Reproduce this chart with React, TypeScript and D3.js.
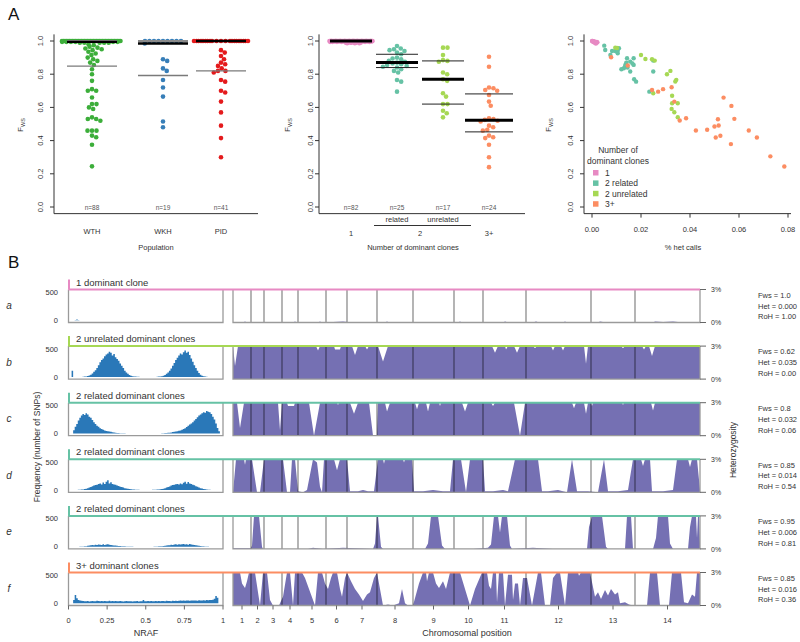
import React from "react";
import * as d3 from "d3";

const FONT = "'Liberation Sans', Arial, Helvetica, sans-serif";

// ---------------- Panel A data ----------------
const populations = ["WTH", "WKH", "PID"];
const popColors = ["#3cae3a", "#377eb8", "#e41a1c"];
const fwsWTH = [
  1, 1, 1, 1, 1, 1, 1, 1, 1, 1,
  1, 1, 1, 1, 1, 1, 1, 1, 1, 1,
  1, 1, 1, 1, 1, 1, 1, 1, 1, 1,
  1, 1, 1, 1, 1, 1, 1, 1, 1, 1,
  0.995, 0.995, 0.995, 0.995, 0.995, 0.995, 0.99, 0.99, 0.99, 0.99, 0.99,
  0.98, 0.975, 0.965, 0.96, 0.955, 0.95, 0.945, 0.935, 0.925, 0.915, 0.9, 0.89, 0.88, 0.87, 0.855,
  0.83, 0.8, 0.76, 0.71, 0.7, 0.7, 0.66, 0.62, 0.62, 0.6, 0.59, 0.54, 0.53, 0.53, 0.52, 0.46, 0.46,
  0.46, 0.43, 0.42, 0.375, 0.245,
];
const fwsWKH = [1, 1, 1, 1, 1, 1, 1, 1, 1, 0.985, 0.89, 0.88, 0.835, 0.82, 0.765, 0.72, 0.665, 0.515, 0.48];
const fwsPID = [
  1, 1, 1, 1, 1, 1, 1, 1, 1, 1, 1, 1, 1, 1, 1, 1, 1, 1, 1, 1, 1,
  0.945, 0.93, 0.91, 0.89, 0.87, 0.86, 0.85, 0.835, 0.82, 0.82, 0.81, 0.765, 0.755, 0.7, 0.69, 0.635,
  0.57, 0.49, 0.415, 0.3,
];

const cloneGroups = ["1", "2 related", "2 unrelated", "3+"];
const cloneColors = ["#e78ac3", "#66c2a5", "#a6d854", "#fc8d62"];
const fwsOne = [
  1, 1, 1, 1, 1, 1, 1, 1, 1, 1,
  1, 1, 1, 1, 1, 1, 1, 1, 1, 1,
  1, 1, 1, 1, 1, 1, 1, 1, 1, 1,
  1, 1, 1, 1, 1, 1, 1, 1, 1, 1,
  1, 1, 1, 1, 1, 1, 1, 1, 1, 1,
  1, 1, 1, 1, 1, 1, 1, 1, 1, 1,
  0.998, 0.998, 0.998, 0.998, 0.998, 0.998, 0.998, 0.998,
  0.995, 0.995, 0.995, 0.995, 0.995, 0.995,
  0.99, 0.99, 0.99, 0.99, 0.99, 0.987, 0.987, 0.987,
];
const fwsRelated = [
  0.97, 0.955, 0.95, 0.945, 0.94, 0.93, 0.92, 0.9, 0.895, 0.89, 0.88, 0.875, 0.87, 0.865, 0.86, 0.855,
  0.85, 0.845, 0.84, 0.83, 0.82, 0.81, 0.765, 0.755, 0.695,
];
const fwsUnrelated = [0.96, 0.96, 0.915, 0.885, 0.88, 0.875, 0.81, 0.8, 0.77, 0.76, 0.685, 0.665, 0.62, 0.62, 0.58, 0.565, 0.54];
const fwsThreePlus = [
  0.905, 0.845, 0.72, 0.715, 0.705, 0.7, 0.675, 0.635, 0.61, 0.535, 0.53, 0.525, 0.52, 0.515, 0.49, 0.48,
  0.465, 0.46, 0.43, 0.42, 0.415, 0.375, 0.3, 0.24,
];

// Panel A3: [% het calls, Fws]
const hetOne: [number, number][] = [
  [0, 1], [0.0003, 0.999], [0.0006, 0.998], [0.001, 0.997], [0.0012, 0.995], [0.0015, 0.993], [0.0018, 0.99],
  [0.0008, 0.992], [0.0004, 0.996], [0.002, 0.994], [0.0013, 0.988], [0.0016, 0.985], [0.0022, 0.992], [0.0002, 1],
];
const hetRelated: [number, number][] = [
  [0.005, 0.972], [0.0054, 0.946], [0.0075, 0.916], [0.0082, 0.94], [0.0095, 0.94], [0.0105, 0.942], [0.011, 0.956],
  [0.0105, 0.926], [0.013, 0.836], [0.0136, 0.856], [0.0143, 0.896], [0.014, 0.87], [0.0135, 0.845], [0.0156, 0.876],
  [0.017, 0.896], [0.017, 0.856], [0.0156, 0.816], [0.0172, 0.77], [0.018, 0.755], [0.0234, 0.695], [0.025, 0.816],
  [0.025, 0.882], [0.0145, 0.84], [0.012, 0.83], [0.0165, 0.865],
];
const hetUnrelated: [number, number][] = [
  [0.0095, 0.96], [0.0102, 0.958], [0.02, 0.916], [0.0218, 0.892], [0.0245, 0.89], [0.0256, 0.882], [0.0306, 0.8],
  [0.032, 0.82], [0.0344, 0.766], [0.034, 0.756], [0.0327, 0.67], [0.0327, 0.625], [0.035, 0.625], [0.0325, 0.591],
  [0.0336, 0.571], [0.035, 0.541], [0.025, 0.685],
];
const hetThreePlus: [number, number][] = [
  [0.0078, 0.902], [0.0146, 0.852], [0.0245, 0.705], [0.027, 0.695], [0.029, 0.71], [0.0325, 0.721], [0.0336, 0.635],
  [0.0358, 0.521], [0.0384, 0.535], [0.0424, 0.461], [0.047, 0.465], [0.05, 0.485], [0.0505, 0.419], [0.0514, 0.529],
  [0.0517, 0.491], [0.0524, 0.429], [0.0537, 0.659], [0.0567, 0.379], [0.0569, 0.609], [0.0581, 0.531], [0.064, 0.461],
  [0.0673, 0.419], [0.0728, 0.305], [0.0785, 0.244],
];
const fwsTicks = [0, 0.2, 0.4, 0.6, 0.8, 1.0];
const hetTicks = [0, 0.02, 0.04, 0.06, 0.08];

// ---------------- Panel B data ----------------
const rowLetters = ["a", "b", "c", "d", "e", "f"];
const rowTitles = [
  "1 dominant clone",
  "2 unrelated dominant clones",
  "2 related dominant clones",
  "2 related dominant clones",
  "2 related dominant clones",
  "3+ dominant clones",
];
const rowGroup = [0, 2, 1, 1, 1, 3];
const rowFws = ["1.0", "0.62", "0.8", "0.85", "0.95", "0.85"];
const rowHet = ["0.000", "0.035", "0.032", "0.014", "0.006", "0.016"];
const rowRoH = ["1.00", "0.00", "0.06", "0.54", "0.81", "0.36"];
const nrafTicks = [0, 0.25, 0.5, 0.75, 1];
const nrafLabels = ["0", "0.25", "0.5", "0.75", "1"];
// relative chromosome lengths (arbitrary genome units)
const chromLengths = [18, 13, 18, 16, 28, 21, 30, 36, 41, 29, 43, 65, 44, 65];

// NRAF histograms, 100 bins of 0.01
const histA = [
  0, 0, 0, 0, 5, 15, 4, 0, 0, 0,
  0, 0, 0, 0, 0, 0, 0, 0, 0, 0,
  0, 0, 0, 0, 0, 0, 0, 0, 0, 0,
  0, 0, 0, 0, 0, 0, 0, 0, 0, 0,
  0, 0, 0, 0, 0, 0, 0, 0, 0, 0,
  0, 0, 0, 0, 0, 0, 0, 0, 0, 0,
  0, 0, 0, 0, 0, 0, 0, 0, 0, 0,
  0, 0, 0, 0, 0, 0, 0, 0, 0, 0,
  0, 0, 0, 0, 0, 0, 0, 0, 0, 0,
  0, 0, 0, 0, 0, 0, 0, 0, 0, 0,
];
const histB = [
  0, 0, 110, 0, 0, 0, 0, 0, 0, 2,
  5, 8, 15, 25, 40, 60, 90, 120, 160, 210,
  260, 300, 330, 370, 400, 420, 450, 430, 380, 410,
  350, 320, 290, 240, 200, 160, 110, 80, 55, 35,
  20, 12, 8, 5, 3, 2, 0, 0, 0, 0,
  0, 0, 0, 0, 0, 0, 0, 3, 5, 8,
  12, 20, 35, 55, 80, 110, 150, 200, 250, 300,
  340, 380, 420, 400, 440, 470, 430, 450, 390, 330,
  270, 210, 160, 110, 70, 40, 20, 10, 5, 2,
  0, 0, 0, 0, 0, 0, 0, 0, 0, 0,
];
const histC = [
  0, 0, 0, 60, 120, 170, 230, 280, 320, 350,
  330, 360, 340, 300, 280, 240, 200, 170, 140, 120,
  95, 80, 65, 55, 45, 40, 35, 30, 22, 18,
  12, 10, 8, 6, 5, 4, 3, 2, 2, 1,
  1, 1, 0, 0, 0, 0, 0, 0, 0, 0,
  0, 0, 0, 0, 0, 0, 1, 1, 2, 2,
  3, 5, 8, 10, 12, 15, 20, 25, 30, 35,
  40, 48, 55, 65, 80, 95, 115, 140, 160, 180,
  200, 230, 260, 290, 320, 340, 360, 380, 370, 400,
  390, 380, 350, 300, 250, 180, 100, 40, 0, 0,
];
const histD = [
  0, 0, 0, 0, 0, 3, 5, 8, 10, 12,
  18, 25, 35, 45, 55, 70, 80, 90, 95, 110,
  120, 100, 135, 110, 150, 175, 120, 140, 110, 100,
  95, 80, 75, 60, 55, 45, 35, 30, 22, 18,
  15, 12, 10, 8, 6, 5, 4, 3, 3, 2,
  2, 3, 3, 4, 5, 6, 8, 10, 12, 15,
  20, 25, 35, 45, 55, 65, 80, 90, 95, 105,
  110, 100, 120, 105, 130, 150, 115, 145, 120, 110,
  95, 85, 70, 60, 45, 35, 28, 20, 15, 10,
  8, 5, 3, 2, 1, 0, 0, 0, 0, 0,
];
const histE = [
  0, 0, 0, 0, 0, 0, 0, 2, 3, 4,
  6, 10, 15, 20, 25, 30, 28, 35, 30, 38,
  35, 30, 42, 32, 38, 45, 35, 30, 25, 22,
  20, 16, 14, 12, 10, 8, 6, 5, 4, 3,
  2, 2, 1, 1, 0, 0, 0, 0, 0, 0,
  0, 0, 0, 1, 1, 2, 3, 4, 6, 8,
  10, 12, 16, 20, 25, 28, 35, 30, 38, 42,
  35, 45, 38, 42, 50, 40, 45, 35, 48, 40,
  35, 30, 26, 22, 18, 14, 10, 7, 5, 3,
  2, 1, 0, 0, 0, 0, 0, 0, 0, 0,
];
const histF = [
  0, 0, 0, 60, 150, 90, 60, 50, 45, 40,
  38, 35, 40, 33, 36, 42, 38, 35, 45, 40,
  38, 42, 36, 40, 35, 38, 44, 36, 40, 35,
  40, 37, 35, 42, 38, 33, 36, 40, 35, 38,
  36, 33, 38, 35, 40, 34, 37, 38, 60, 36,
  38, 40, 35, 42, 38, 36, 40, 37, 42, 38,
  40, 43, 38, 45, 40, 42, 38, 44, 40, 46,
  42, 45, 48, 44, 50, 46, 52, 48, 45, 50,
  48, 52, 50, 47, 55, 50, 52, 55, 50, 58,
  55, 60, 58, 62, 80, 130, 100, 0, 0, 0,
];

// heterozygosity profiles: [genome position (units), heterozygosity %]
const hetProfileA: [number, number][] = [
  [0, 0], [10, 0], [12, 0.08], [14, 0], [60, 0], [62, 0.08], [64, 0], [85, 0], [87, 0.1], [89, 0], [100, 0.05],
  [110, 0.08], [120, 0], [152, 0], [154, 0.1], [156, 0], [225, 0], [227, 0.08], [229, 0], [270, 0], [272, 0.08],
  [275, 0], [300, 0], [303, 0.1], [306, 0], [330, 0], [332, 0.08], [334, 0], [365, 0], [367, 0.1], [370, 0.05],
  [380, 0], [420, 0], [422, 0.08], [430, 0.05], [440, 0.08], [450, 0], [467, 0],
];
const hetProfileB: [number, number][] = [
  [0, 3], [2, 1.2], [5, 3], [83, 3], [85, 2.6], [87, 3], [101, 3], [102, 2.7], [107, 2.7], [108, 3], [119, 3],
  [122, 2.2], [125, 3], [132, 3], [134, 2.7], [136, 3], [145, 3], [150, 1.6], [155, 3], [259, 3], [262, 2.4],
  [265, 3], [272, 3], [273, 2.7], [275, 3], [281, 3], [284, 2.4], [287, 3], [300, 3], [302, 2.8], [304, 3],
  [318, 3], [320, 2.6], [322, 3], [328, 3], [330, 2.6], [332, 3], [351, 3], [353, 1.4], [355, 3], [388, 3],
  [390, 2.8], [392, 3], [409, 3], [411, 2.7], [413, 3], [416, 3], [419, 2.1], [422, 3], [467, 3],
];
const hetProfileC: [number, number][] = [
  [0, 3], [4, 3], [7, 0.7], [11, 3], [45, 3], [47, 0.5], [49, 3], [54, 3], [55, 2.7], [61, 2.7], [62, 3], [76, 3],
  [81, 0], [87, 3], [104, 3], [105, 2.8], [106, 3], [117, 3], [121, 2.0], [125, 3], [136, 3], [140, 0], [144, 0],
  [145, 3], [152, 3], [154, 2.2], [157, 3], [182, 3], [184, 2.4], [186, 3], [193, 3], [195, 2.2], [197, 3],
  [206, 3], [207, 2.7], [208, 3], [229, 3], [232, 2.2], [235, 3], [258, 3], [260, 2.7], [262, 3], [281, 3],
  [287, 0], [292, 3], [339, 3], [341, 2.5], [343, 3], [351, 3], [353, 2.0], [355, 3], [358, 3], [359, 2.7],
  [360, 3], [389, 3], [390, 2.8], [391, 3], [418, 3], [420, 2.3], [422, 3], [467, 3],
];
const hetProfileD: [number, number][] = [
  [0, 0], [3, 3], [11, 3], [12, 2.5], [13, 3], [19, 3], [24, 0], [27, 0], [31, 3], [50, 3], [54, 0], [57, 0],
  [59, 3], [62, 3], [65, 0.1], [70, 0], [74, 0.2], [80, 3], [84, 2.7], [87, 0.5], [89, 0], [91, 3], [101, 3],
  [104, 2.0], [107, 3], [114, 3], [117, 0.1], [125, 0.1], [130, 0.2], [135, 0.1], [141, 0.1], [145, 3], [150, 3],
  [151, 2.6], [152, 3], [170, 3], [171, 2.7], [172, 3], [179, 3], [181, 0.1], [190, 0.1], [200, 0.2], [210, 0.1],
  [217, 0.1], [220, 3], [228, 3], [233, 0], [237, 3], [250, 3], [252, 0.1], [260, 0.1], [270, 0.2], [275, 0.1],
  [282, 3], [305, 3], [309, 0.1], [315, 0.1], [325, 0.2], [334, 0], [339, 3], [344, 0.1], [355, 0.1], [365, 0],
  [371, 3], [375, 0.1], [385, 0.1], [395, 0.2], [400, 3], [408, 3], [410, 2.4], [412, 3], [417, 3], [419, 0.1],
  [430, 0.1], [440, 0.2], [444, 3], [455, 3], [457, 2.3], [459, 3], [464, 3], [467, 0.2],
];
const hetProfileE: [number, number][] = [
  [0, 0.05], [18, 0.05], [19, 0.3], [21, 3], [26, 3], [29, 0.2], [30, 0], [75, 0], [80, 0.1], [90, 0], [110, 0.1],
  [140, 0], [142, 0.5], [144, 3], [145, 3], [148, 0.2], [150, 0], [192, 0], [195, 0.5], [198, 3], [205, 3],
  [209, 0.3], [212, 0], [240, 0], [255, 0.1], [258, 0.4], [261, 3], [265, 3], [267, 1.5], [269, 3], [274, 3],
  [277, 0.3], [279, 0], [300, 0.1], [320, 0], [354, 0], [356, 2], [359, 3], [369, 3], [373, 0.2], [375, 0],
  [392, 0], [394, 3], [398, 3], [400, 0], [420, 0], [423, 1], [425, 3], [435, 3], [437, 0.5], [440, 0], [455, 0],
  [457, 2], [459, 3], [463, 3], [464, 1], [465, 3], [466, 3], [467, 0.5],
];
const hetProfileF: [number, number][] = [
  [0, 3], [7, 3], [9, 2.0], [12, 1.6], [14, 2.2], [16, 3], [22, 3], [27, 0], [30, 3], [34, 3], [37, 0.5], [40, 0],
  [46, 0], [48, 0.4], [50, 0.8], [54, 3], [57, 3], [60, 0], [62, 3], [69, 3], [72, 2.5], [76, 1.5], [82, 0],
  [85, 3], [89, 3], [92, 2], [95, 1.5], [98, 2.5], [100, 3], [104, 3], [107, 1.5], [109, 0.8], [112, 2.5],
  [114, 3], [118, 2.2], [122, 1.5], [126, 1.0], [130, 0.4], [134, 1.0], [137, 1.2], [141, 2.5], [144, 3],
  [147, 1.5], [150, 0], [155, 0.1], [160, 0], [166, 0.2], [169, 1.5], [172, 0.2], [175, 0], [180, 0], [186, 2],
  [190, 3], [193, 3], [194, 2.2], [196, 3], [200, 3], [203, 2], [206, 1.6], [210, 2.2], [213, 1.5], [217, 3],
  [227, 3], [232, 1.5], [237, 0], [242, 1.5], [249, 3], [254, 3], [256, 1.8], [258, 1.5], [260, 3], [263, 3],
  [264, 0.3], [266, 3], [270, 3], [272, 0], [275, 2.8], [279, 2.8], [280, 0.5], [282, 2], [285, 2], [287, 0],
  [290, 2.5], [294, 2.5], [297, 1], [299, 0], [302, 1.5], [305, 3], [308, 3], [312, 0], [317, 0], [320, 2.5],
  [324, 3], [327, 3], [332, 0], [335, 3], [345, 3], [346, 2.7], [348, 3], [357, 3], [362, 0.8], [365, 1.2],
  [368, 0.6], [372, 1.4], [375, 0.9], [378, 1.5], [382, 1.0], [385, 1.2], [387, 0.2], [392, 0.3], [396, 0.1],
  [400, 0], [414, 0], [417, 3], [424, 3], [427, 0], [436, 0], [439, 3], [448, 3], [451, 0.3], [455, 0.2],
  [459, 1.0], [462, 0.8], [464, 3], [467, 3],
];

const histRows = [histA, histB, histC, histD, histE, histF];
const profileRows = [hetProfileA, hetProfileB, hetProfileC, hetProfileD, hetProfileE, hetProfileF];

// ---------------- helpers ----------------
type Pt = { x: number; y: number };
function swarmLayout(values: number[], yPos: (v: number) => number, diam: number, maxHalf: number): Pt[] {
  const idx = values.map((_, i) => i).sort((a, b) => values[b] - values[a]);
  const placed: Pt[] = [];
  const out: Pt[] = new Array(values.length);
  for (const i of idx) {
    const py = yPos(values[i]);
    const near = placed.filter((p) => Math.abs(p.y - py) < diam);
    const cands = [0];
    near.forEach((p) => {
      const dx = Math.sqrt(Math.max(0, diam * diam - (p.y - py) ** 2));
      cands.push(p.x + dx, p.x - dx);
    });
    const ok = cands.filter((c) => near.every((p) => (p.x - c) ** 2 + (p.y - py) ** 2 >= diam * diam - 0.01));
    ok.sort((a, b) => Math.abs(a) - Math.abs(b));
    const p = { x: ok.length ? ok[0] : 0, y: py };
    placed.push(p);
    out[i] = p;
  }
  const span = 2 * maxHalf;
  return out.map((p) => {
    let x = p.x;
    if (Math.abs(x) > maxHalf) x = ((((x + maxHalf) % span) + span) % span) - maxHalf;
    return { x, y: p.y };
  });
}

const TXT = "#333";

export default function App() {
  // ---------- Panel A ----------
  const yA = d3.scaleLinear().domain([0, 1]).range([207, 41]);
  const frameTop = yA(1.04);
  const frameBottom = yA(-0.04);
  const xA1 = d3.scaleOrdinal<string, number>().domain(populations).range([92, 163, 221]);
  const xA2 = d3.scalePoint<string>().domain(cloneGroups).range([351, 489]);
  const xA3 = d3.scaleLinear().domain([0, 0.08]).range([592, 788]);
  const a1Sets = [fwsWTH, fwsWKH, fwsPID];
  const a1Half = [30, 20, 28];
  const a2Sets = [fwsOne, fwsRelated, fwsUnrelated, fwsThreePlus];
  const a2Half = [22, 20, 20, 22];
  const a3Sets = [hetOne, hetRelated, hetUnrelated, hetThreePlus];
  const R = 2.3;

  const yAxisA = (axX: number, labX: number, key: string, rightEnd: number) => (
    <g key={key}>
      <path d={`M${axX},${frameTop}V${frameBottom}H${rightEnd}`} fill="none" stroke="#333" strokeWidth={1} />
      {fwsTicks.map((t) => (
        <g key={t}>
          <line x1={axX - 4} x2={axX} y1={yA(t)} y2={yA(t)} stroke="#333" strokeWidth={1} />
          <text transform={`translate(${labX},${yA(t)}) rotate(-90)`} textAnchor="middle" fontSize={7.5} fill={TXT}>
            {t.toFixed(1)}
          </text>
        </g>
      ))}
    </g>
  );
  const fwsTitle = (x: number, key: string) => (
    <text key={key} transform={`translate(${x},125) rotate(-90)`} textAnchor="middle" fontSize={8} fill={TXT}>
      F<tspan fontSize={5.5} dy={2}>WS</tspan>
    </text>
  );

  // ---------- Panel B ----------
  const rowTop0 = 289.5;
  const rowStep = 56.6;
  const boxH = 33;
  const nraf = d3.scaleLinear().domain([0, 1]).range([68.5, 223]);
  const totalLen = d3.sum(chromLengths);
  const chromX = d3.scaleLinear().domain([0, totalLen]).range([233, 700]);
  const cumEnds = d3.cumsum(chromLengths);
  const chromStarts = chromLengths.map((l, i) => cumEnds[i] - l);
  const chromMids = chromLengths.map((l, i) => chromStarts[i] + l / 2);

  return (
    <svg
      width={800}
      height={642}
      style={{ position: "absolute", left: 0, top: 0, background: "#fff", fontFamily: FONT }}
    >
      <rect x={0} y={0} width={800} height={642} fill="#fff" />
      {/* panel letters */}
      <text x={8} y={20} fontSize={17} fill="#111">A</text>
      <text x={8} y={268} fontSize={17} fill="#111">B</text>

      {/* ===== A1 ===== */}
      {yAxisA(54, 42.5, "ax1", 258)}
      {fwsTitle(23, "f1")}
      {a1Sets.map((vals, gi) => {
        const cx = xA1(populations[gi]);
        const pts = swarmLayout(vals, yA, 4.5, a1Half[gi]);
        const sorted = [...vals].sort(d3.ascending);
        const med = d3.quantileSorted(sorted, 0.5)!;
        const q1 = d3.quantileSorted(sorted, 0.25)!;
        const q3 = d3.quantileSorted(sorted, 0.75)!;
        return (
          <g key={gi}>
            {pts.map((p, i) => (
              <circle key={i} cx={cx + p.x} cy={p.y} r={R} fill={popColors[gi]} />
            ))}
            <line x1={cx - 25} x2={cx + 25} y1={yA(q3)} y2={yA(q3)} stroke="#8a8a8a" strokeWidth={2} />
            <line x1={cx - 25} x2={cx + 25} y1={yA(q1)} y2={yA(q1)} stroke="#7a7a7a" strokeWidth={1.4} />
            <line x1={cx - 25} x2={cx + 25} y1={yA(med)} y2={yA(med)} stroke="#000" strokeWidth={2.4} />
            <text x={cx} y={210} textAnchor="middle" fontSize={6.5} fill="#555">{`n=${vals.length}`}</text>
            <text x={cx} y={234} textAnchor="middle" fontSize={7.5} fill={TXT}>{populations[gi]}</text>
          </g>
        );
      })}
      <text x={156} y={250} textAnchor="middle" fontSize={7.5} fill={TXT}>Population</text>

      {/* ===== A2 ===== */}
      {yAxisA(319, 312.5, "ax2", 525)}
      {fwsTitle(290, "f2")}
      {a2Sets.map((vals, gi) => {
        const cx = xA2(cloneGroups[gi])!;
        const pts = swarmLayout(vals, yA, 4.5, a2Half[gi]);
        const sorted = [...vals].sort(d3.ascending);
        const med = d3.quantileSorted(sorted, 0.5)!;
        const q1 = d3.quantileSorted(sorted, 0.25)!;
        const q3 = d3.quantileSorted(sorted, 0.75)!;
        const hw = gi === 3 ? 24 : 21;
        return (
          <g key={gi}>
            {pts.map((p, i) => (
              <circle key={i} cx={cx + p.x} cy={p.y} r={R} fill={cloneColors[gi]} />
            ))}
            <line x1={cx - hw} x2={cx + hw} y1={yA(q3)} y2={yA(q3)} stroke="#222" strokeWidth={1} />
            <line x1={cx - hw} x2={cx + hw} y1={yA(q1)} y2={yA(q1)} stroke="#222" strokeWidth={1} />
            <line x1={cx - hw} x2={cx + hw} y1={yA(med)} y2={yA(med)} stroke="#000" strokeWidth={3} />
            <text x={cx} y={210} textAnchor="middle" fontSize={6.5} fill="#555">{`n=${vals.length}`}</text>
          </g>
        );
      })}
      <text x={xA2("2 related")} y={222} textAnchor="middle" fontSize={7.5} fill={TXT}>related</text>
      <text x={xA2("2 unrelated")} y={222} textAnchor="middle" fontSize={7.5} fill={TXT}>unrelated</text>
      <line x1={374} x2={471} y1={225.5} y2={225.5} stroke="#333" strokeWidth={1} />
      <text x={xA2("1")} y={236} textAnchor="middle" fontSize={7.5} fill={TXT}>1</text>
      <text x={(xA2("2 related")! + xA2("2 unrelated")!) / 2} y={236} textAnchor="middle" fontSize={7.5} fill={TXT}>2</text>
      <text x={xA2("3+")} y={236} textAnchor="middle" fontSize={7.5} fill={TXT}>3+</text>
      <text x={413} y={250} textAnchor="middle" fontSize={7.5} fill={TXT}>Number of dominant clones</text>

      {/* ===== A3 ===== */}
      {yAxisA(584, 572.5, "ax3", 791)}
      {fwsTitle(551, "f3")}
      {hetTicks.map((t) => (
        <g key={t}>
          <line x1={xA3(t)} x2={xA3(t)} y1={frameBottom} y2={frameBottom + 4} stroke="#333" strokeWidth={1} />
          <text x={xA3(t)} y={232} textAnchor="middle" fontSize={7.5} fill={TXT}>{t.toFixed(2)}</text>
        </g>
      ))}
      {a3Sets.map((pts, gi) => (
        <g key={gi}>
          {pts.map((p, i) => (
            <circle key={i} cx={xA3(p[0])} cy={yA(p[1])} r={2.2} fill={cloneColors[gi]} />
          ))}
        </g>
      ))}
      <text x={683} y={250} textAnchor="middle" fontSize={7.5} fill={TXT}>% het calls</text>
      <text x={618} y={153} textAnchor="middle" fontSize={8.5} fill={TXT}>Number of</text>
      <text x={618} y={163.5} textAnchor="middle" fontSize={8.5} fill={TXT}>dominant clones</text>
      {cloneGroups.map((g, i) => (
        <g key={g}>
          <rect x={593} y={170 + i * 10.4} width={5.5} height={5.5} fill={cloneColors[i]} />
          <text x={605} y={175.7 + i * 10.4} fontSize={8.5} fill={TXT}>{g}</text>
        </g>
      ))}

      {/* ===== Panel B ===== */}
      <text transform="translate(40,447) rotate(-90)" textAnchor="middle" fontSize={8.5} fill={TXT}>
        Frequency (number of SNPs)
      </text>
      <text transform="translate(736,450) rotate(-90)" textAnchor="middle" fontSize={8.5} fill={TXT}>
        Heterozygosity
      </text>
      {rowLetters.map((letter, ri) => {
        const top = rowTop0 + ri * rowStep;
        const bottom = top + boxH;
        const col = cloneColors[rowGroup[ri]];
        const hy = d3.scaleLinear().domain([0, 550]).range([top + 30.8, top]);
        const hetY = d3.scaleLinear().domain([0, 3]).range([bottom, top]);
        const bins = histRows[ri];
        const histData = [...bins, bins[bins.length - 1]];
        const histPath = d3
          .area<number>()
          .x((_, i) => nraf(i / bins.length))
          .y0(hy(0))
          .y1((d) => hy(d))
          .curve(d3.curveStepAfter)(histData) as string;
        const profPath = d3
          .area<[number, number]>()
          .x((d) => chromX(d[0]))
          .y0(bottom)
          .y1((d) => hetY(Math.max(0, Math.min(3, d[1]))))(profileRows[ri]) as string;
        return (
          <g key={letter}>
            <text x={9} y={top + 19.5} fontSize={10} fontStyle="italic" fill={TXT} textAnchor="middle">{letter}</text>
            {/* histogram */}
            <path d={histPath} fill="#2a78b8" />
            <path d={`M${nraf(0)},${top}V${bottom}H${nraf(1)}V${top}`} fill="none" stroke="#9a9a9a" strokeWidth={1.3} />
            <text x={58} y={hy(500) + 2.7} textAnchor="end" fontSize={7.5} fill={TXT}>500</text>
            <text x={58} y={hy(0) + 2.7} textAnchor="end" fontSize={7.5} fill={TXT}>0</text>
            {/* heterozygosity profile */}
            <path d={profPath} fill="#7570b3" />
            {chromStarts.slice(1).map((s, ci) => (
              <line key={ci} x1={chromX(s)} x2={chromX(s)} y1={top} y2={bottom} stroke="rgba(0,0,0,0.45)" strokeWidth={1.3} />
            ))}
            <path d={`M${chromX(0)},${top}V${bottom}H${chromX(totalLen)}V${top}`} fill="none" stroke="#9a9a9a" strokeWidth={1.3} />
            <line x1={700} x2={706} y1={hetY(3)} y2={hetY(3)} stroke="#666" strokeWidth={1} />
            <line x1={700} x2={706} y1={hetY(0)} y2={hetY(0)} stroke="#666" strokeWidth={1} />
            <text x={711} y={hetY(3) + 2.6} fontSize={7} fill={TXT}>3%</text>
            <text x={711} y={hetY(0) + 2.6} fontSize={7} fill={TXT}>0%</text>
            {/* coloured title bar */}
            <line x1={nraf(0)} x2={700} y1={top} y2={top} stroke={col} strokeWidth={2} />
            <line x1={69} x2={69} y1={top - 10} y2={top} stroke={col} strokeWidth={2} />
            <text x={76} y={top - 4} fontSize={9.5} fill={TXT}>{rowTitles[ri]}</text>
            {/* stats */}
            <text x={758} y={top + 8.2} fontSize={7.5} fill={TXT}>{`Fws = ${rowFws[ri]}`}</text>
            <text x={758} y={top + 19} fontSize={7.5} fill={TXT}>{`Het = ${rowHet[ri]}`}</text>
            <text x={758} y={top + 29.8} fontSize={7.5} fill={TXT}>{`RoH = ${rowRoH[ri]}`}</text>
          </g>
        );
      })}
      {/* bottom axes */}
      {nrafTicks.map((t, i) => (
        <g key={t}>
          <line x1={nraf(t)} x2={nraf(t)} y1={rowTop0 + 5 * rowStep + boxH} y2={rowTop0 + 5 * rowStep + boxH + 4} stroke="#666" />
          <text x={nraf(t)} y={623} textAnchor="middle" fontSize={7.5} fill={TXT}>{nrafLabels[i]}</text>
        </g>
      ))}
      {chromMids.map((m, i) => (
        <g key={i}>
          <line x1={chromX(m)} x2={chromX(m)} y1={rowTop0 + 5 * rowStep + boxH} y2={rowTop0 + 5 * rowStep + boxH + 4} stroke="#666" />
          <text x={chromX(m)} y={623} textAnchor="middle" fontSize={7.5} fill={TXT}>{i + 1}</text>
        </g>
      ))}
      <text x={146} y={636} textAnchor="middle" fontSize={9} fill={TXT}>NRAF</text>
      <text x={467} y={636} textAnchor="middle" fontSize={9} fill={TXT}>Chromosomal position</text>
    </svg>
  );
}
